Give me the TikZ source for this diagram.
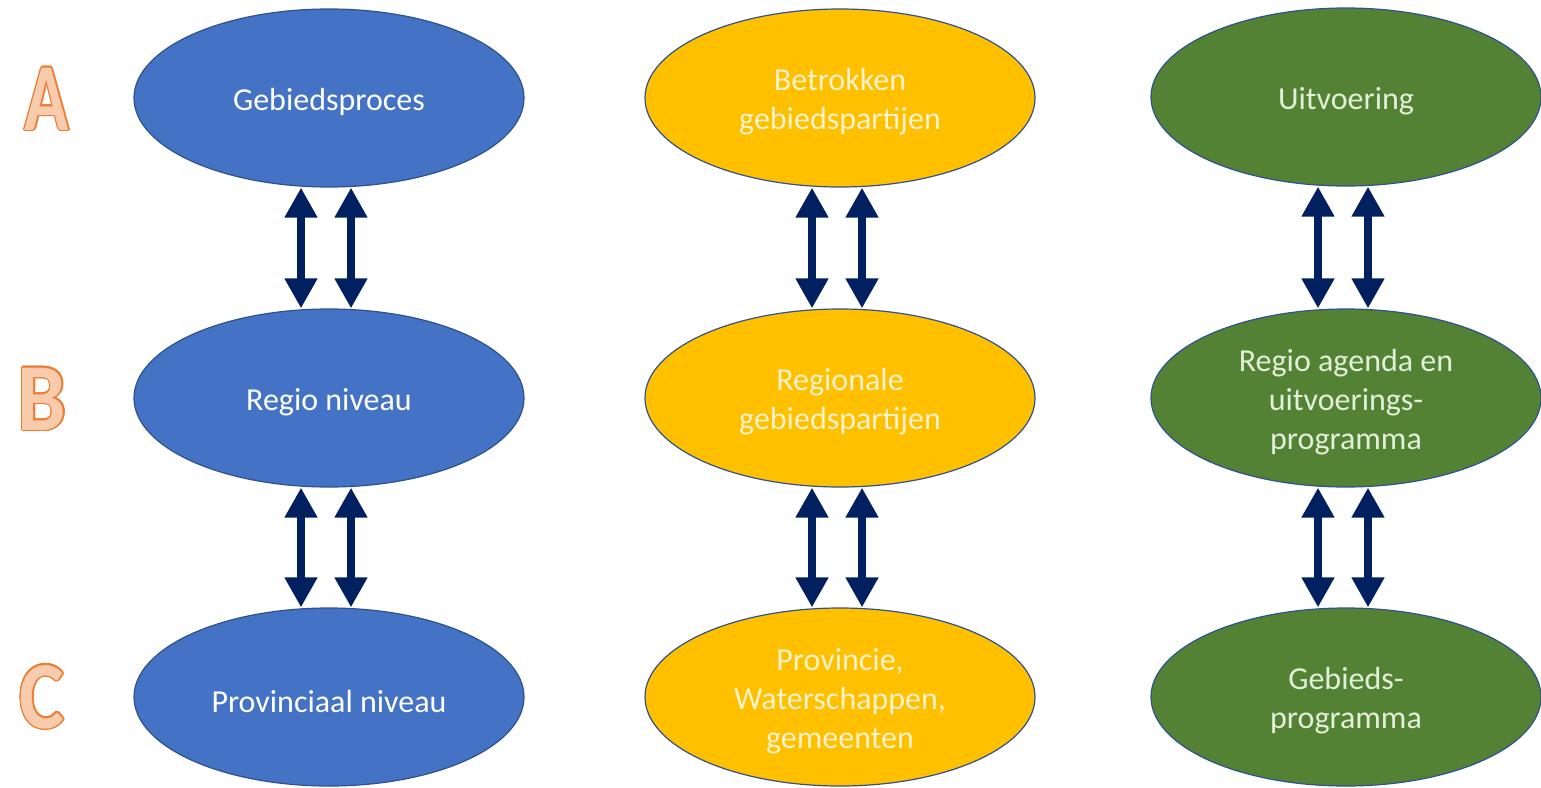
\documentclass[tikz,border=0pt]{standalone}
\usepackage{fontspec}
\setmainfont{Carlito}
\usetikzlibrary{arrows.meta,shapes.geometric}
\definecolor{bluefill}{HTML}{4472C4}
\definecolor{yellowfill}{HTML}{FFC000}
\definecolor{greenfill}{HTML}{548235}
\definecolor{edgecol}{HTML}{2F528F}
\definecolor{yellowtext}{HTML}{FFF2CC}
\definecolor{greentext}{HTML}{E2F0D9}
\definecolor{navy}{HTML}{002060}
\definecolor{peach}{HTML}{F8CBAD}
\definecolor{orangeedge}{HTML}{ED7D31}
\tikzset{
  oval/.style={ellipse, minimum width=390pt, minimum height=178pt, inner sep=0pt,
    draw=edgecol, line width=1.2pt},
  blueoval/.style={oval, fill=bluefill},
  yellowoval/.style={oval, fill=yellowfill},
  greenoval/.style={oval, fill=greenfill},
  ovaltext/.style={align=center, inner sep=0pt, font=\fontsize{32pt}{39pt}\selectfont},
  bluetext/.style={ovaltext, text=white},
  yellowtext/.style={ovaltext, text=yellowtext},
  greentext/.style={ovaltext, text=greentext},
  dblarrow/.style={draw=navy, line width=8pt,
    {Triangle[width=31pt,length=30pt]}-{Triangle[width=31pt,length=30pt]}},
  letterfont/.style={font=\fontsize{96pt}{96pt}\selectfont\bfseries, inner sep=0pt},
}
\begin{document}
\begin{tikzpicture}[x=1pt,y=-1pt]
\useasboundingbox (0,0) rectangle (1541,787);
\fill[white] (0,0) rectangle (1541,787);
% row letters
\foreach \L/\X/\Y/\S in {A/47/99/0.76, B/42/399/0.9, C/42/697/0.88} {
  \begin{scope}[shift={(\X,\Y)}, xscale=\S]
  \foreach \a in {0,30,...,330} {
    \node[letterfont, text=orangeedge, transform shape] at (\a:1.6pt) {\L};
  }
  \node[letterfont, text=peach, transform shape] (let\L) at (0,0) {\L};
  \end{scope}
}
% left column
\node[blueoval] (a1) at (329,98) {};
\node[bluetext] (a1t) at (329,102) {Gebiedsproces};
\node[blueoval] (b1) at (329,398) {};
\node[bluetext] (b1t) at (329,402) {Regio niveau};
\node[blueoval] (c1) at (329,697) {};
\node[bluetext] (c1t) at (329,701) {Provinciaal niveau};
% middle column
\node[yellowoval] (a2) at (840,98) {};
\node[yellowtext] (a2t) at (840,102) {Betrokken\\gebiedspartijen};
\node[yellowoval] (b2) at (840,398) {};
\node[yellowtext] (b2t) at (840,402) {Regionale\\gebiedspartijen};
\node[yellowoval] (c2) at (840,697) {};
\node[yellowtext] (c2t) at (840,701) {Provincie,\\Waterschappen,\\gemeenten};
% right column
\node[greenoval] (a3) at (1346,97) {};
\node[greentext] (a3t) at (1346,101) {Uitvoering};
\node[greenoval] (b3) at (1346,398) {};
\node[greentext] (b3t) at (1346,402) {Regio agenda en\\uitvoerings-\\programma};
\node[greenoval] (c3) at (1346,697) {};
\node[greentext] (c3t) at (1346,701) {Gebieds-\\programma};
% arrows
\foreach \i in {1,2,3} {
  \draw[dblarrow] ([xshift=-28pt]a\i.south) -- ([xshift=-28pt]b\i.north);
  \draw[dblarrow] ([xshift=22pt]a\i.south) -- ([xshift=22pt]b\i.north);
  \draw[dblarrow] ([xshift=-28pt]b\i.south) -- ([xshift=-28pt]c\i.north);
  \draw[dblarrow] ([xshift=22pt]b\i.south) -- ([xshift=22pt]c\i.north);
}
\end{tikzpicture}
\end{document}
